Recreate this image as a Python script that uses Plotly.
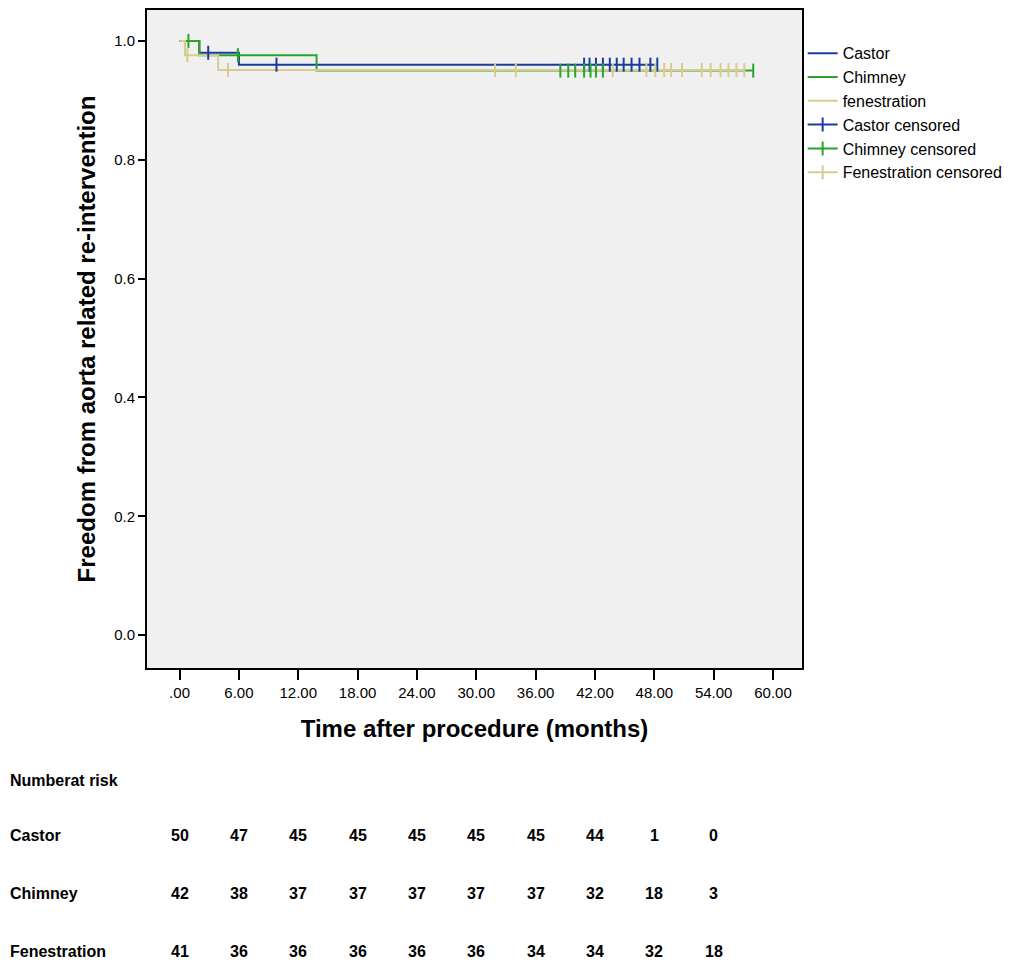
import plotly.graph_objects as go

# axis ticks
month_ticks = [0, 6, 12, 18, 24, 30, 36, 42, 48, 54, 60]
month_labels = [".00", "6.00", "12.00", "18.00", "24.00", "30.00", "36.00", "42.00", "48.00", "54.00", "60.00"]
surv_ticks = [0.0, 0.2, 0.4, 0.6, 0.8, 1.0]

# Kaplan-Meier step points (time, survival)
castor_t = [0, 2.0, 6.0, 48.3]
castor_s = [1.0, 0.98, 0.96, 0.96]
chimney_t = [0, 2.0, 13.85, 58.0]
chimney_s = [1.0, 0.976, 0.950, 0.950]
fen_t = [0, 0.55, 3.9, 57.1]
fen_s = [1.0, 0.976, 0.951, 0.951]

# censored times
castor_cens = [2.9, 9.8, 40.9, 41.45, 42.1, 42.8, 43.5, 44.2, 44.9, 45.7, 46.5, 47.6, 48.3]
chimney_cens = [0.9, 5.9, 38.5, 39.3, 40.0, 40.9, 41.55, 42.1, 42.8, 58.0]
fen_cens = [0.8, 4.9, 31.9, 34.0, 43.8, 47.2, 48.1, 49.0, 49.7, 50.8, 52.8, 53.7,
            54.7, 55.5, 56.3, 57.1]

# number at risk table
risk_times = [0, 6, 12, 18, 24, 30, 36, 42, 48, 54]
castor_risk = [50, 47, 45, 45, 45, 45, 45, 44, 1, 0]
chimney_risk = [42, 38, 37, 37, 37, 37, 37, 32, 18, 3]
fen_risk = [41, 36, 36, 36, 36, 36, 34, 34, 32, 18]

BLUE = "#1c3b9e"
GREEN = "#2aa52a"
TAN = "#d8cb8e"
FONT = "Liberation Sans, Arial, sans-serif"


def surv_at(ts, ss, t):
    # value of the step curve at time t
    v = ss[0]
    for a, b in zip(ts, ss):
        if a <= t:
            v = b
    return v


def censor_xy(cens, ts, ss):
    # points separated by gaps so no line joins them, but the legend shows a line
    xs, ys = [], []
    for c in cens:
        xs += [c, None]
        ys += [surv_at(ts, ss, c), None]
    return xs, ys


fig = go.Figure()

for name, ts, ss, col in [("Castor", castor_t, castor_s, BLUE),
                          ("Chimney", chimney_t, chimney_s, GREEN),
                          ("fenestration", fen_t, fen_s, TAN)]:
    fig.add_trace(go.Scatter(x=ts, y=ss, mode="lines", name=name,
                             line=dict(color=col, width=2, shape="hv"),
                             hoverinfo="skip"))

for name, cens, ts, ss, col in [("Castor censored", castor_cens, castor_t, castor_s, BLUE),
                                ("Chimney censored", chimney_cens, chimney_t, chimney_s, GREEN),
                                ("Fenestration censored", fen_cens, fen_t, fen_s, TAN)]:
    xs, ys = censor_xy(cens, ts, ss)
    fig.add_trace(go.Scatter(x=xs, y=ys, mode="lines+markers", name=name,
                             connectgaps=False,
                             line=dict(color=col, width=2),
                             marker=dict(symbol="line-ns", size=10, color=col,
                                         line=dict(color=col, width=2)),
                             hoverinfo="skip"))

# number at risk table
label_x = -0.2122
fig.add_annotation(text="<b>Numberat risk</b>", xref="paper", yref="paper",
                   x=label_x, y=-0.1712, xanchor="left", yanchor="middle", showarrow=False,
                   font=dict(size=16, color="black", family=FONT))
for label, vals, yy in [("Castor", castor_risk, -0.2545),
                        ("Chimney", chimney_risk, -0.3424),
                        ("Fenestration", fen_risk, -0.4303)]:
    fig.add_annotation(text="<b>" + label + "</b>", xref="paper", yref="paper",
                       x=label_x, y=yy, xanchor="left", yanchor="middle", showarrow=False,
                       font=dict(size=16, color="black", family=FONT))
    for t, v in zip(risk_times, vals):
        fig.add_annotation(text="<b>" + str(v) + "</b>", xref="x", yref="paper", x=t, y=yy,
                           yanchor="middle", showarrow=False,
                           font=dict(size=16, color="black", family=FONT))

fig.update_layout(
    width=1022, height=965,
    margin=dict(l=139, r=228, t=0, b=305),
    paper_bgcolor="white",
    plot_bgcolor="#f0f0f0",
    font=dict(family=FONT, color="black"),
    showlegend=True,
    legend=dict(x=1.001, y=0.960, xanchor="left", yanchor="top",
                font=dict(size=16, color="black", family=FONT),
                bgcolor="rgba(0,0,0,0)", tracegroupgap=0, itemwidth=30),
)

fig.update_xaxes(range=[-3.29, 62.93], tickvals=month_ticks, ticktext=month_labels,
                 showgrid=False, zeroline=False,
                 showline=True, linecolor="black", linewidth=2, mirror=True,
                 ticks="outside", ticklen=10, tickwidth=1.5, tickcolor="black",
                 tickfont=dict(size=15, color="black"),
                 title=dict(text="<b>Time after procedure (months)</b>", standoff=20,
                            font=dict(size=24, color="black")))
fig.update_yaxes(range=[-0.0554, 1.052], tickvals=surv_ticks, tickformat=".1f",
                 showgrid=False, zeroline=False,
                 showline=True, linecolor="black", linewidth=2, mirror=True,
                 ticks="outside", ticklen=7, tickwidth=1.5, tickcolor="black",
                 tickfont=dict(size=15, color="black"),
                 title=dict(text="<b>Freedom from aorta related re-intervention</b>", standoff=12,
                            font=dict(size=24, color="black")))

fig.write_html("out.html")
